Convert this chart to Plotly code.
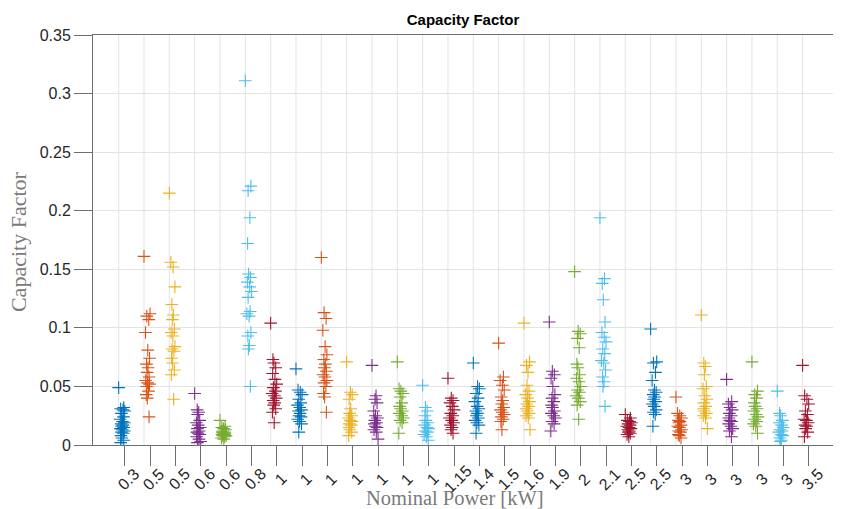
import plotly.graph_objects as go

# Nominal power label of each measured unit (one group per unit)
power_labels = ['0.3', '0.5', '0.5', '0.6', '0.6', '0.8',
                '1', '1', '1', '1', '1', '1', '1', '1.15',
                '1.4', '1.5', '1.6', '1.9', '2', '2.1',
                '2.5', '2.5', '3', '3', '3', '3', '3', '3.5']

# Capacity factor samples per unit (largest first)
cf_01 = [0.049, 0.032, 0.031, 0.030, 0.029, 0.027, 0.024, 0.022, 0.020, 0.019, 0.018, 0.017,
         0.016, 0.015, 0.014, 0.013, 0.012, 0.011, 0.010, 0.008, 0.006, 0.004, 0.002]
cf_02 = [0.161, 0.112, 0.110, 0.107, 0.096, 0.081, 0.074, 0.069, 0.066, 0.062, 0.058, 0.055,
         0.053, 0.052, 0.050, 0.046, 0.043, 0.040, 0.024]
cf_03 = [0.215, 0.156, 0.152, 0.135, 0.120, 0.111, 0.107, 0.099, 0.096, 0.093, 0.084, 0.082,
         0.080, 0.074, 0.070, 0.064, 0.060, 0.039]
cf_04 = [0.044, 0.030, 0.028, 0.026, 0.021, 0.019, 0.017, 0.015, 0.014, 0.012, 0.011, 0.010,
         0.009, 0.007, 0.005, 0.003, 0.002]
cf_05 = [0.021, 0.016, 0.015, 0.014, 0.013, 0.012, 0.011, 0.011, 0.010, 0.010, 0.009, 0.009,
         0.008, 0.008, 0.007, 0.006, 0.005]
cf_06 = [0.311, 0.221, 0.217, 0.194, 0.172, 0.146, 0.143, 0.139, 0.135, 0.131, 0.126, 0.114,
         0.112, 0.110, 0.096, 0.093, 0.085, 0.082, 0.050]
cf_07 = [0.104, 0.073, 0.070, 0.066, 0.061, 0.056, 0.052, 0.049, 0.046, 0.044, 0.042, 0.040,
         0.038, 0.036, 0.034, 0.031, 0.028, 0.019]
cf_08 = [0.065, 0.047, 0.045, 0.043, 0.039, 0.036, 0.034, 0.032, 0.030, 0.029, 0.027, 0.025,
         0.024, 0.022, 0.020, 0.018, 0.011]
cf_09 = [0.160, 0.113, 0.108, 0.098, 0.084, 0.077, 0.073, 0.069, 0.066, 0.063, 0.060, 0.058,
         0.055, 0.053, 0.050, 0.044, 0.041, 0.028]
cf_10 = [0.071, 0.045, 0.043, 0.039, 0.031, 0.027, 0.025, 0.023, 0.021, 0.020, 0.018, 0.017,
         0.015, 0.013, 0.011, 0.008]
cf_11 = [0.068, 0.042, 0.039, 0.036, 0.029, 0.025, 0.023, 0.021, 0.019, 0.018, 0.016, 0.015,
         0.013, 0.011, 0.005]
cf_12 = [0.071, 0.048, 0.046, 0.044, 0.041, 0.036, 0.033, 0.031, 0.029, 0.027, 0.025, 0.023,
         0.021, 0.019, 0.010]
cf_13 = [0.051, 0.032, 0.029, 0.025, 0.021, 0.019, 0.017, 0.015, 0.014, 0.012, 0.011, 0.009,
         0.007, 0.004]
cf_14 = [0.057, 0.040, 0.038, 0.036, 0.033, 0.030, 0.027, 0.025, 0.023, 0.021, 0.019, 0.017,
         0.015, 0.013, 0.010]
cf_15 = [0.070, 0.050, 0.048, 0.044, 0.040, 0.037, 0.033, 0.031, 0.029, 0.027, 0.025, 0.023,
         0.021, 0.019, 0.017, 0.010]
cf_16 = [0.087, 0.058, 0.055, 0.051, 0.047, 0.041, 0.038, 0.035, 0.032, 0.030, 0.028, 0.026,
         0.024, 0.022, 0.020, 0.013]
cf_17 = [0.104, 0.071, 0.068, 0.062, 0.051, 0.046, 0.043, 0.040, 0.037, 0.035, 0.033, 0.031,
         0.029, 0.027, 0.025, 0.023, 0.013]
cf_18 = [0.105, 0.063, 0.060, 0.057, 0.050, 0.043, 0.040, 0.037, 0.034, 0.032, 0.029, 0.027,
         0.025, 0.023, 0.020, 0.018, 0.012]
cf_19 = [0.148, 0.097, 0.095, 0.091, 0.083, 0.069, 0.066, 0.060, 0.057, 0.054, 0.050, 0.047,
         0.045, 0.042, 0.040, 0.037, 0.034, 0.022]
cf_20 = [0.194, 0.142, 0.138, 0.124, 0.105, 0.096, 0.092, 0.088, 0.082, 0.078, 0.072, 0.070,
         0.064, 0.058, 0.054, 0.050, 0.033]
cf_21 = [0.026, 0.023, 0.021, 0.020, 0.019, 0.018, 0.017, 0.016, 0.015, 0.014, 0.013, 0.012,
         0.011, 0.010, 0.009, 0.007]
cf_22 = [0.099, 0.071, 0.070, 0.062, 0.055, 0.047, 0.045, 0.043, 0.041, 0.039, 0.037, 0.035,
         0.033, 0.030, 0.028, 0.026, 0.016]
cf_23 = [0.041, 0.027, 0.025, 0.023, 0.021, 0.020, 0.019, 0.017, 0.016, 0.015, 0.013, 0.012,
         0.011, 0.009, 0.008, 0.006]
cf_24 = [0.111, 0.070, 0.067, 0.060, 0.050, 0.048, 0.042, 0.039, 0.036, 0.033, 0.031, 0.029,
         0.027, 0.025, 0.023, 0.014]
cf_25 = [0.056, 0.037, 0.035, 0.032, 0.030, 0.027, 0.025, 0.023, 0.021, 0.020, 0.018, 0.016,
         0.014, 0.012, 0.007]
cf_26 = [0.071, 0.046, 0.043, 0.040, 0.036, 0.033, 0.031, 0.029, 0.026, 0.024, 0.022, 0.020,
         0.018, 0.016, 0.010]
cf_27 = [0.046, 0.027, 0.025, 0.021, 0.019, 0.017, 0.015, 0.013, 0.012, 0.011, 0.009, 0.008,
         0.006, 0.004, 0.003]
cf_28 = [0.068, 0.042, 0.039, 0.035, 0.029, 0.026, 0.022, 0.021, 0.019, 0.017, 0.016, 0.014,
         0.011, 0.007]

groups = [cf_01, cf_02, cf_03, cf_04, cf_05, cf_06, cf_07, cf_08, cf_09, cf_10,
          cf_11, cf_12, cf_13, cf_14, cf_15, cf_16, cf_17, cf_18, cf_19, cf_20,
          cf_21, cf_22, cf_23, cf_24, cf_25, cf_26, cf_27, cf_28]

y_ticks = [0, 0.05, 0.1, 0.15, 0.2, 0.25, 0.3, 0.35]
y_tick_text = ['0', '0.05', '0.1', '0.15', '0.2', '0.25', '0.3', '0.35']

# MATLAB default color order, cycled over the groups
palette = ['#0072BD', '#D95319', '#EDB120', '#7E2F8E', '#77AC30', '#4DBEEE', '#A2142F']

# fixed horizontal spread of the samples inside a group (in category units)
spread = [-0.12, -0.05, -0.17, -0.08, -0.01, -0.14, -0.06, -0.19, -0.1, -0.03,
          -0.15, -0.09, -0.13, -0.05, -0.18, -0.11, -0.03, -0.14, -0.07, -0.16]

AXIS_GREY = '#6e6e6e'
GRID_GREY = '#e3e3e3'
SANS = 'Liberation Sans, Arial, sans-serif'
SERIF = 'Liberation Serif, Times New Roman, serif'

fig = go.Figure()

for g, values in enumerate(groups):
    pos = g + 1
    color = palette[g % len(palette)]
    xs = []
    for j in range(len(values)):
        if j == 0:
            xs.append(pos - 0.25)
        else:
            xs.append(pos + spread[(j + 3 * g) % len(spread)])
    fig.add_trace(go.Scatter(
        x=xs, y=values, mode='markers', showlegend=False,
        marker=dict(symbol='cross-thin', size=9, color=color,
                    line=dict(color=color, width=1.1)),
        hovertemplate=power_labels[g] + ' kW: %{y:.3f}<extra></extra>',
    ))

positions = list(range(1, len(groups) + 1))

# vertical gridlines sit a quarter step left of each category tick
shapes = [dict(type='line', xref='x', yref='paper', x0=p - 0.25, x1=p - 0.25, y0=0, y1=1,
               line=dict(color=GRID_GREY, width=1), layer='below') for p in positions]

# rotated category labels, centred just under each tick
annotations = [dict(x=p + 0.12, y=0, xref='x', yref='paper', text=lab, showarrow=False,
                    textangle=-45, xanchor='center', yanchor='middle', yshift=-34,
                    font=dict(family=SANS, size=16, color='#262626'))
               for p, lab in zip(positions, power_labels)]

annotations.append(dict(x=0.489, y=0, xref='paper', yref='paper', text='Nominal Power [kW]',
                        showarrow=False, xanchor='center', yanchor='middle', yshift=-53,
                        font=dict(family=SERIF, size=20.5, color='#7a7a7a')))
annotations.append(dict(x=0, y=0.495, xref='paper', yref='paper', text='Capacity Factor',
                        showarrow=False, xanchor='center', yanchor='middle', xshift=-75,
                        textangle=-90,
                        font=dict(family=SERIF, size=22, color='#7a7a7a')))

fig.update_layout(
    width=846, height=509,
    margin=dict(l=93, r=13, t=35, b=64),
    paper_bgcolor='white', plot_bgcolor='white',
    title=dict(text='<b>Capacity Factor</b>', x=0.5, xref='paper', y=1 - 20 / 509,
               xanchor='center', yanchor='middle',
               font=dict(family=SANS, size=15, color='#000000')),
    xaxis=dict(range=[-0.263, 28.95], tickvals=positions, showticklabels=False,
               ticks='outside', ticklen=20, tickwidth=1, tickcolor=AXIS_GREY,
               showline=True, linecolor=AXIS_GREY, linewidth=1, mirror=True,
               showgrid=False, zeroline=False, fixedrange=True),
    yaxis=dict(range=[0, 0.35], tickvals=y_ticks, ticktext=y_tick_text,
               ticks='outside', ticklen=18, tickwidth=1, tickcolor=AXIS_GREY,
               showline=True, linecolor=AXIS_GREY, linewidth=1,
               showgrid=True, gridcolor=GRID_GREY, gridwidth=1, zeroline=False,
               tickfont=dict(family=SANS, size=16, color='#262626'),
               fixedrange=True),
    shapes=shapes,
    annotations=annotations,
)

fig.write_html('out.html')
